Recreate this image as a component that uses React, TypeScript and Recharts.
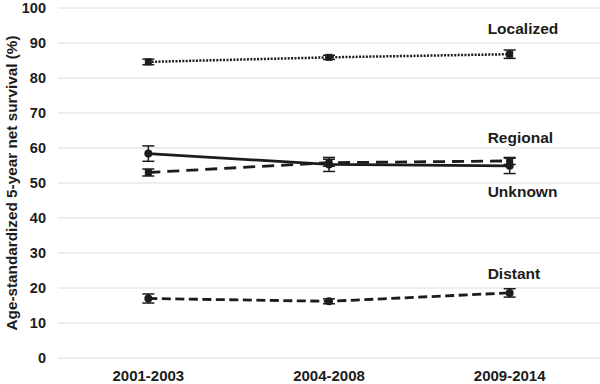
import { LineChart, Line, XAxis, YAxis, CartesianGrid, ErrorBar, LabelList } from 'recharts';

const periods = ['2001-2003', '2004-2008', '2009-2014'];
const localized = [84.6, 85.9, 86.8];
const localizedErr = [0.8, 0.6, 1.2];
const regional = [58.4, 55.3, 54.9];
const regionalErr = [2.2, 2.0, 2.2];
const unknown = [53.0, 55.8, 56.3];
const unknownErr = [1.0, 1.0, 1.0];
const distant = [17.0, 16.2, 18.6];
const distantErr = [1.3, 0.7, 1.2];
const yTicks = [0, 10, 20, 30, 40, 50, 60, 70, 80, 90, 100];

const data = periods.map((p, i) => ({
  period: p,
  localized: localized[i],
  localizedErr: localizedErr[i],
  regional: regional[i],
  regionalErr: regionalErr[i],
  unknown: unknown[i],
  unknownErr: unknownErr[i],
  distant: distant[i],
  distantErr: distantErr[i]
}));

const ink = '#1c1c1c';
const font = '"Liberation Sans", Arial, sans-serif';

const SquareDot = (props: any) => {
  const { cx, cy } = props;
  if (cx == null || cy == null) return null;
  return <rect x={cx - 3.5} y={cy - 3.5} width={7} height={7} fill={ink} />;
};

const CircleDot = (props: any) => {
  const { cx, cy } = props;
  if (cx == null || cy == null) return null;
  return <circle cx={cx} cy={cy} r={4} fill={ink} />;
};

const seriesLabel = (text: string, dy: number) => (props: any) => {
  const { x, y, index } = props;
  if (index !== periods.length - 1) return null;
  return (
    <text
      x={x - 22}
      y={y + dy}
      dominantBaseline='central'
      textAnchor='start'
      fontFamily={font}
      fontWeight='bold'
      fontSize={15.5}
      fill={ink}
    >
      {text}
    </text>
  );
};

export default function App() {
  return (
    <div style={{ position: 'absolute', left: 0, top: 0, background: '#fff' }}>
      <LineChart width={600} height={384} data={data} margin={{ top: 8, right: 0, left: 0, bottom: 0 }}>
        <CartesianGrid horizontal vertical={false} stroke='#dcdcdc' strokeWidth={1} />
        <XAxis
          dataKey='period'
          scale='band'
          height={26}
          axisLine={false}
          tickLine={false}
          tickMargin={6}
          tick={{ fontSize: 15, fontWeight: 'bold', fill: ink, fontFamily: font }}
        />
        <YAxis
          width={58}
          domain={[0, 100]}
          ticks={yTicks}
          interval={0}
          axisLine={false}
          tickLine={false}
          tickMargin={6}
          tick={{ fontSize: 14.5, fontWeight: 'bold', fill: ink, fontFamily: font }}
          label={{
            value: 'Age-standardized 5-year net survival (%)',
            angle: -90,
            position: 'center',
            dx: -17,
            style: { fontSize: 15.3, fontWeight: 'bold', fill: ink, fontFamily: font, textAnchor: 'middle' }
          }}
        />
        <Line
          dataKey='localized'
          stroke={ink}
          strokeWidth={2.5}
          strokeDasharray='2 1.4'
          dot={<SquareDot />}
          activeDot={false}
          isAnimationActive={false}
        >
          <ErrorBar dataKey='localizedErr' width={6} stroke={ink} strokeWidth={1.5} />
          <LabelList dataKey='localized' content={seriesLabel('Localized', -26)} />
        </Line>
        <Line
          dataKey='regional'
          stroke={ink}
          strokeWidth={2.8}
          dot={<CircleDot />}
          activeDot={false}
          isAnimationActive={false}
        >
          <ErrorBar dataKey='regionalErr' width={6} stroke={ink} strokeWidth={1.5} />
          <LabelList dataKey='regional' content={seriesLabel('Regional', -28)} />
        </Line>
        <Line
          dataKey='unknown'
          stroke={ink}
          strokeWidth={2.8}
          strokeDasharray='12 7'
          dot={<SquareDot />}
          activeDot={false}
          isAnimationActive={false}
        >
          <ErrorBar dataKey='unknownErr' width={6} stroke={ink} strokeWidth={1.5} />
          <LabelList dataKey='unknown' content={seriesLabel('Unknown', 31)} />
        </Line>
        <Line
          dataKey='distant'
          stroke={ink}
          strokeWidth={2.8}
          strokeDasharray='9 4.5'
          dot={<CircleDot />}
          activeDot={false}
          isAnimationActive={false}
        >
          <ErrorBar dataKey='distantErr' width={6} stroke={ink} strokeWidth={1.5} />
          <LabelList dataKey='distant' content={seriesLabel('Distant', -19)} />
        </Line>
      </LineChart>
    </div>
  );
}
